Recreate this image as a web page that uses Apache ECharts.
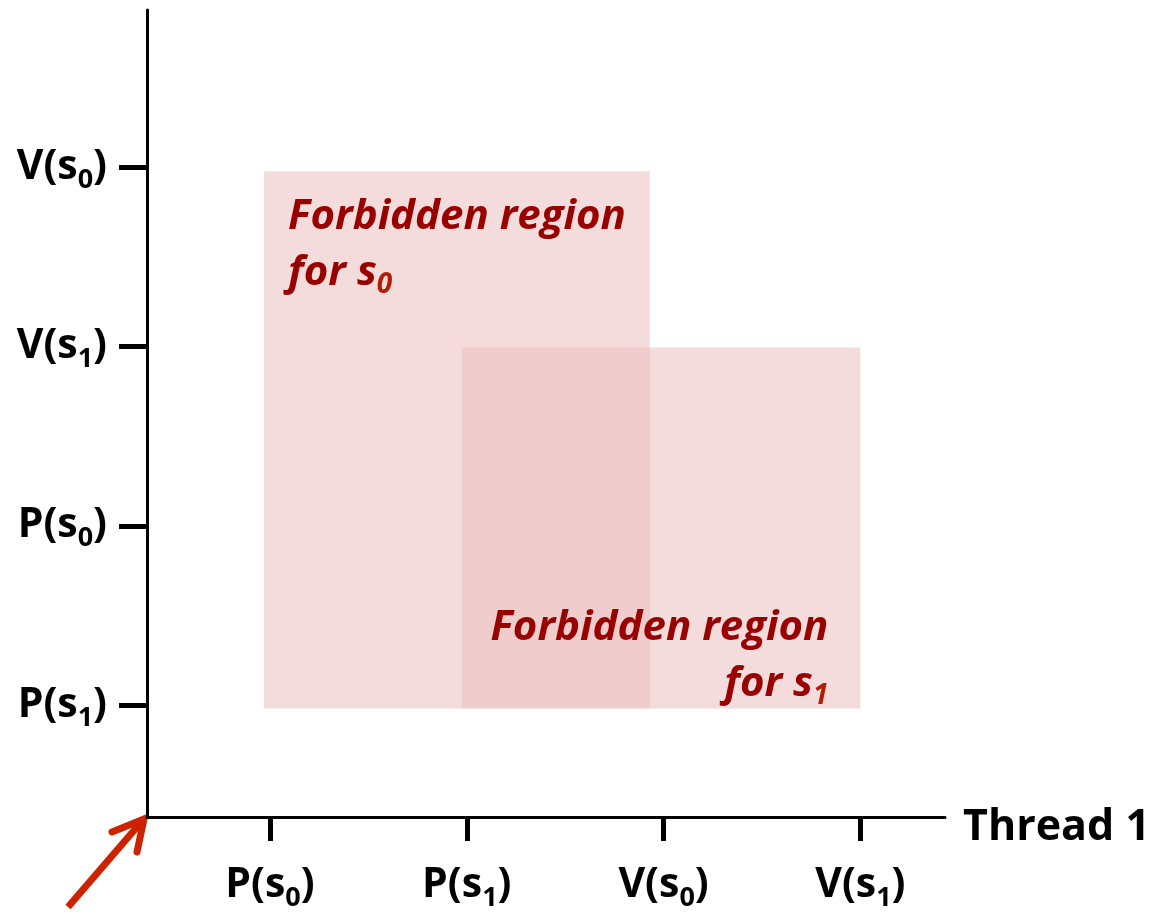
<!DOCTYPE html>
<html>
<head>
<meta charset="utf-8">
<script src="https://cdn.jsdelivr.net/npm/echarts@6/dist/echarts.min.js"></script>
<style>
html,body{margin:0;padding:0;background:#fff;}
#chart{width:1157px;height:914px;}
</style>
</head>
<body>
<div id="chart"></div>
<script>
// ---- data ----
const xTickValues = [1, 2, 3, 4];
const xTickLabels = ['P(s0)', 'P(s1)', 'V(s0)', 'V(s1)'];
const yTickValues = [1, 2, 3, 4];
const yTickLabels = ['P(s1)', 'P(s0)', 'V(s1)', 'V(s0)'];
const xAxisName = 'Thread 1';
const regionLabels = ['Forbidden region\nfor s0', 'Forbidden region\nfor s1'];
const regionX0 = [0.97, 1.975];
const regionX1 = [2.93, 4.0];
const regionY0 = [0.98, 0.98];
const regionY1 = [3.98, 2.995];
const axisMinX = 0.375, axisMaxX = 4.43;
const axisMinY = 0.374, axisMaxY = 4.88;

const FONT = 'Open Sans';

function tickFmt(s) {
  const m = s.match(/^(.*s)(\d)(\))$/);
  return '{b|' + m[1] + '}{sub|' + m[2] + '}{b|' + m[3] + '}';
}
function regionFmt(s) {
  return s.split('\n').map(line => {
    const m = line.match(/^(.*s)(\d)$/);
    if (m) return '{t|' + m[1] + '}{s|' + m[2] + '}';
    return '{t|' + line + '}';
  }).join('\n');
}

const labelRich = {
  b: { fontFamily: FONT, fontWeight: 'bold', fontSize: 41, color: '#000', lineHeight: 48 },
  sub: { fontFamily: FONT, fontWeight: 'bold', fontSize: 27, color: '#000', lineHeight: 48, padding: [26, 0, 0, 0] }
};
const regionRich = {
  t: { fontFamily: FONT, fontWeight: 'bold', fontStyle: 'italic', fontSize: 42, fill: '#990000', lineHeight: 56 },
  s: { fontFamily: FONT, fontWeight: 'bold', fontStyle: 'italic', fontSize: 28, fill: '#b31c00', lineHeight: 56, padding: [24, 0, 0, 0] }
};

const chart = echarts.init(document.getElementById('chart'), null, { renderer: 'canvas' });

const regionData = regionLabels.map((n, i) => [regionX0[i], regionX1[i], regionY0[i], regionY1[i], i]);

chart.setOption({
  animation: false,
  backgroundColor: '#ffffff',
  grid: { left: 147, top: 10, right: 212, bottom: 97, outerBoundsMode: 'none', containLabel: false },
  xAxis: {
    type: 'value', min: axisMinX, max: axisMaxX,
    name: xAxisName, nameLocation: 'end', nameGap: 18,
    nameTextStyle: { fontFamily: FONT, fontWeight: 'bold', fontSize: 43, color: '#000', verticalAlign: 'top', lineHeight: 22 },
    axisLine: { show: true, lineStyle: { color: '#000', width: 3 } },
    axisTick: { show: true, customValues: xTickValues, length: 24, lineStyle: { color: '#000', width: 5 } },
    axisLabel: {
      show: true, customValues: xTickValues, margin: 44,
      formatter: v => tickFmt(xTickLabels[xTickValues.indexOf(Math.round(v))]),
      rich: labelRich
    },
    splitLine: { show: false }
  },
  yAxis: {
    type: 'value', min: axisMinY, max: axisMaxY,
    axisLine: { show: true, lineStyle: { color: '#000', width: 3 } },
    axisTick: { show: true, customValues: yTickValues, length: 28, lineStyle: { color: '#000', width: 5 } },
    axisLabel: {
      show: true, customValues: yTickValues, margin: 40,
      formatter: v => tickFmt(yTickLabels[yTickValues.indexOf(Math.round(v))]),
      rich: labelRich
    },
    splitLine: { show: false }
  },
  series: [{
    type: 'custom',
    data: regionData,
    encode: { x: [0, 1], y: [2, 3] },
    renderItem: function (params, api) {
      const i = api.value(4);
      const tl = api.coord([api.value(0), api.value(3)]);
      const br = api.coord([api.value(1), api.value(2)]);
      const w = br[0] - tl[0], h = br[1] - tl[1];
      const text = regionFmt(regionLabels[i]);
      const textEl = i === 0
        ? { type: 'text', z2: 10, style: { x: tl[0] + 24, y: tl[1] + 18, text: text, rich: regionRich, fill: '#990000', align: 'left', verticalAlign: 'top' } }
        : { type: 'text', z2: 10, style: { x: br[0] - 32, y: br[1] + 4, text: text, rich: regionRich, fill: '#990000', align: 'right', verticalAlign: 'bottom' } };
      return {
        type: 'group',
        children: [
          { type: 'rect', shape: { x: tl[0], y: tl[1], width: w, height: h }, style: { fill: 'rgba(237,190,190,0.54)' } },
          textEl
        ]
      };
    }
  }]
});

// arrow pointing at the origin
const o = chart.convertToPixel({ gridIndex: 0 }, [axisMinX, axisMinY]);
const tip = [o[0] - 2, o[1] + 1];
chart.setOption({
  graphic: [{
    type: 'group',
    children: [
      { type: 'line', shape: { x1: tip[0] - 77, y1: tip[1] + 89, x2: tip[0] - 2, y2: tip[1] + 2 }, style: { stroke: '#cc2200', lineWidth: 7 } },
      { type: 'polyline', shape: { points: [[tip[0] - 33, tip[1] + 14], [tip[0] - 1, tip[1] + 1], [tip[0] - 8, tip[1] + 34]] }, style: { stroke: '#cc2200', lineWidth: 7, fill: null, lineJoin: 'miter', lineCap: 'round' } }
    ]
  }]
});
</script>
</body>
</html>
